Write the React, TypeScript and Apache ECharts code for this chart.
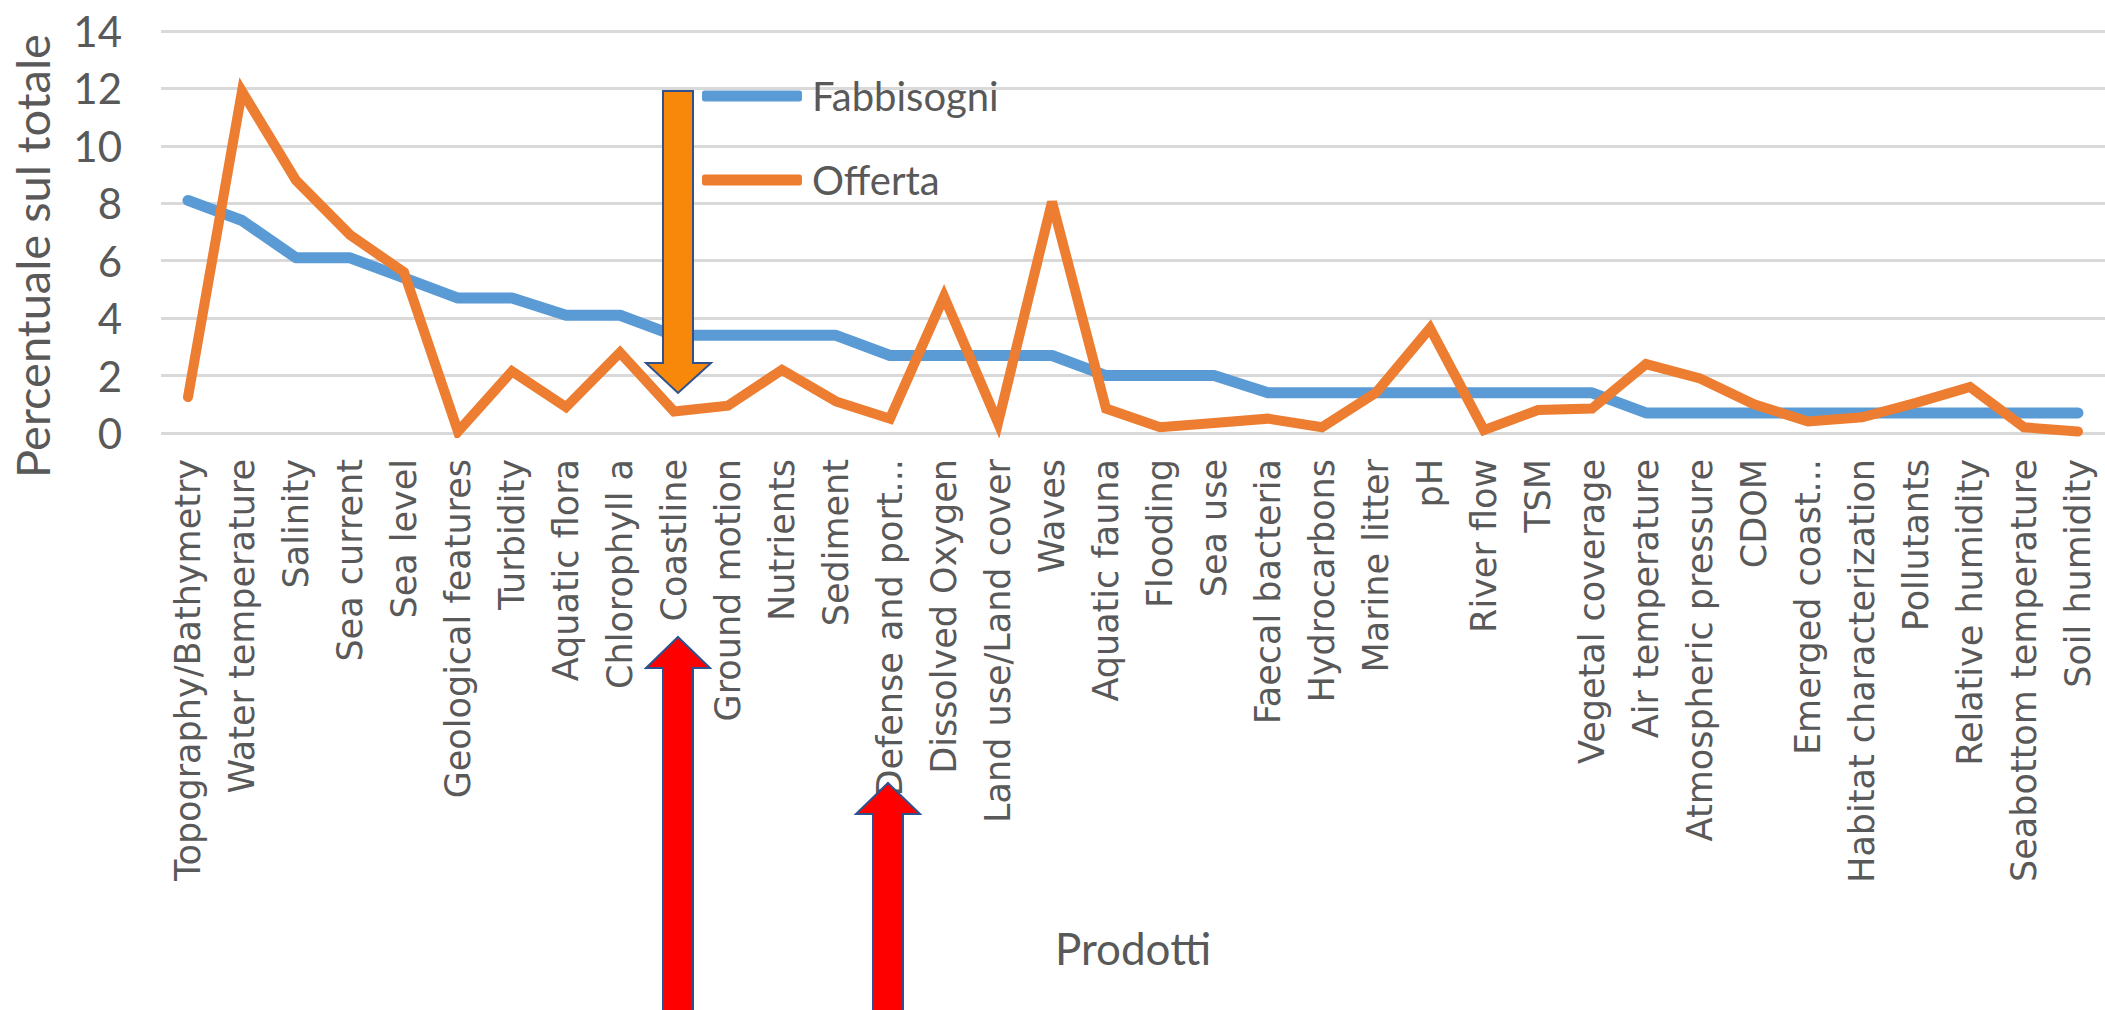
import React, { useEffect, useRef } from "react";
import * as echarts from "echarts";

const categories = [
  "Topography/Bathymetry",
  "Water temperature",
  "Salinity",
  "Sea current",
  "Sea level",
  "Geological features",
  "Turbidity",
  "Aquatic flora",
  "Chlorophyll a",
  "Coastline",
  "Ground motion",
  "Nutrients",
  "Sediment",
  "Defense and port...",
  "Dissolved Oxygen",
  "Land use/Land cover",
  "Waves",
  "Aquatic fauna",
  "Flooding",
  "Sea use",
  "Faecal bacteria",
  "Hydrocarbons",
  "Marine litter",
  "pH",
  "River flow",
  "TSM",
  "Vegetal coverage",
  "Air temperature",
  "Atmospheric pressure",
  "CDOM",
  "Emerged coast...",
  "Habitat characterization",
  "Pollutants",
  "Relative humidity",
  "Seabottom temperature",
  "Soil humidity",
];

const fabbisogni = [
  8.1, 7.4, 6.1, 6.1, 5.4, 4.7, 4.7, 4.1, 4.1, 3.4, 3.4, 3.4, 3.4, 2.7, 2.7, 2.7,
  2.7, 2.0, 2.0, 2.0, 1.4, 1.4, 1.4, 1.4, 1.4, 1.4, 1.4, 0.7, 0.7, 0.7, 0.7, 0.7,
  0.7, 0.7, 0.7, 0.7,
];

const offerta = [
  1.25, 11.9, 8.8, 6.9, 5.6, 0.05, 2.15, 0.9, 2.8, 0.75, 0.95, 2.2, 1.1, 0.5,
  4.75, 0.35, 8.05, 0.85, 0.2, 0.35, 0.5, 0.2, 1.4, 3.65, 0.1, 0.8, 0.85, 2.4,
  1.9, 1.0, 0.4, 0.55, 1.05, 1.6, 0.2, 0.05,
];

const yTicks = { min: 0, max: 14, interval: 2 };
const seriesNames = ["Fabbisogni", "Offerta"];
const axisTitles = { x: "Prodotti", y: "Percentuale sul totale" };

const TEXT = "#595959";
const SANS = "Lato, 'Noto Sans', sans-serif";

export default function App() {
  const ref = useRef<HTMLDivElement>(null);

  useEffect(() => {
    if (!ref.current) return;
    const chart = echarts.init(ref.current, undefined, { renderer: "svg" });
    const arrowStyle = (fill: string) => ({
      fill,
      stroke: "#2F528F",
      lineWidth: 2,
    });
    chart.setOption({
      animation: false,
      backgroundColor: "#ffffff",
      grid: { left: 158, right: 0, top: 31, bottom: 577, containLabel: false },
      legend: {
        show: true,
        orient: "vertical",
        left: 697,
        top: 71,
        itemWidth: 100,
        itemHeight: 11,
        itemGap: 44,
        icon: "roundRect",
        data: seriesNames,
        textStyle: {
          fontFamily: SANS,
          fontSize: 40,
          lineHeight: 40,
          color: TEXT,
          padding: [0, 0, 0, 5],
        },
      },
      xAxis: {
        type: "category",
        data: categories,
        boundaryGap: true,
        axisLine: { show: false },
        axisTick: { show: false },
        axisLabel: {
          interval: 0,
          rotate: 90,
          margin: 26,
          color: TEXT,
          fontFamily: "'DejaVu Sans', sans-serif",
          fontSize: 35,
        },
        name: axisTitles.x,
        nameLocation: "middle",
        nameGap: 493,
        nameTextStyle: { fontFamily: SANS, fontSize: 44, color: TEXT },
      },
      yAxis: {
        type: "value",
        min: yTicks.min,
        max: yTicks.max,
        interval: yTicks.interval,
        axisLine: { show: false },
        axisTick: { show: false },
        splitLine: { lineStyle: { color: "#D9D9D9", width: 3 } },
        axisLabel: {
          margin: 39,
          color: TEXT,
          fontFamily: SANS,
          fontSize: 42,
        },
        name: axisTitles.y,
        nameLocation: "middle",
        nameRotate: 90,
        nameGap: 106,
        nameTextStyle: {
          fontFamily: SANS,
          fontSize: 47,
          color: TEXT,
          padding: [0, 48, 0, 0],
        },
      },
      series: [
        {
          name: seriesNames[0],
          type: "line",
          data: fabbisogni,
          symbol: "none",
          color: "#5B9BD5",
          lineStyle: { width: 11, color: "#5B9BD5", cap: "round", join: "round" },
          z: 2,
        },
        {
          name: seriesNames[1],
          type: "line",
          data: offerta,
          symbol: "none",
          color: "#ED7D31",
          lineStyle: { width: 10, color: "#ED7D31", cap: "round", join: "miter" },
          z: 3,
        },
      ],
      graphic: [
        {
          type: "polygon",
          z: 100,
          shape: {
            points: [
              [663, 91], [693, 91], [693, 363], [711, 363], [678, 393], [646, 363], [663, 363],
            ],
          },
          style: arrowStyle("#F7880A"),
        },
        {
          type: "polygon",
          z: 100,
          shape: {
            points: [
              [678, 637], [710, 668], [693, 668], [693, 1015], [663, 1015], [663, 668], [646, 668],
            ],
          },
          style: arrowStyle("#FF0000"),
        },
        {
          type: "polygon",
          z: 100,
          shape: {
            points: [
              [888, 783], [920, 814], [903, 814], [903, 1015], [873, 1015], [873, 814], [856, 814],
            ],
          },
          style: arrowStyle("#FF0000"),
        },
      ],
    });
    return () => chart.dispose();
  }, []);

  return (
    <div
      ref={ref}
      style={{ position: "fixed", left: 0, top: 0, width: 2105, height: 1010, background: "#fff" }}
    />
  );
}
